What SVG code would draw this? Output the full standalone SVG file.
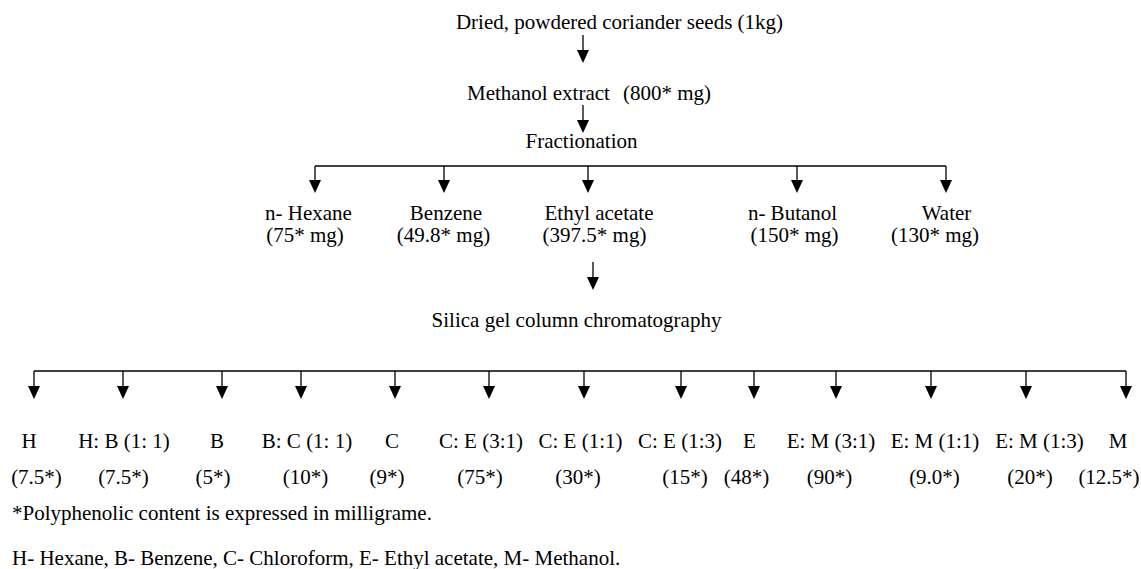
<svg xmlns="http://www.w3.org/2000/svg" width="1141" height="569" viewBox="0 0 1141 569">
<style>
text{font-family:"Liberation Serif","Times New Roman",serif;font-size:21px;fill:#000}
.c{text-anchor:middle}
.ln{stroke:#000;stroke-width:1.3;fill:none}
.ar{stroke:#000;stroke-width:1.3;fill:none;marker-end:url(#ah)}
</style>
<defs>
<marker id="ah" markerUnits="userSpaceOnUse" markerWidth="13" markerHeight="12" refX="11" refY="6" orient="auto">
<path d="M0,0 L13,6 L0,12 Z" fill="#000"/>
</marker>
</defs>
<rect width="1141" height="569" fill="#fff"/>
<g id="connectors">
<line class="ar" x1="583" y1="35" x2="583" y2="61"/>
<line class="ar" x1="583" y1="105" x2="583" y2="131"/>
<line class="ln" x1="315" y1="166" x2="946" y2="166"/>
<line class="ar" x1="315" y1="166" x2="315" y2="191"/>
<line class="ar" x1="444" y1="166" x2="444" y2="191"/>
<line class="ar" x1="588" y1="166" x2="588" y2="191"/>
<line class="ar" x1="797" y1="166" x2="797" y2="191"/>
<line class="ar" x1="946" y1="166" x2="946" y2="191"/>
<line class="ar" x1="593" y1="262" x2="593" y2="288"/>
<line class="ln" x1="34" y1="371" x2="1126" y2="371"/>
<line class="ar" x1="34" y1="371" x2="34" y2="397"/>
<line class="ar" x1="123" y1="371" x2="123" y2="397"/>
<line class="ar" x1="222" y1="371" x2="222" y2="397"/>
<line class="ar" x1="301" y1="371" x2="301" y2="397"/>
<line class="ar" x1="395" y1="371" x2="395" y2="397"/>
<line class="ar" x1="489" y1="371" x2="489" y2="397"/>
<line class="ar" x1="584" y1="371" x2="584" y2="397"/>
<line class="ar" x1="681" y1="371" x2="681" y2="397"/>
<line class="ar" x1="754" y1="371" x2="754" y2="397"/>
<line class="ar" x1="836" y1="371" x2="836" y2="397"/>
<line class="ar" x1="931" y1="371" x2="931" y2="397"/>
<line class="ar" x1="1026" y1="371" x2="1026" y2="397"/>
<line class="ar" x1="1126" y1="371" x2="1126" y2="397"/>
</g>
<g id="seeds"><text class="c" x="619.5" y="29">Dried, powdered coriander seeds (1kg)</text></g>
<g id="methanol-extract"><text y="100"><tspan x="467">Methanol extract</tspan><tspan x="623">(800* mg)</tspan></text></g>
<g id="fractionation"><text class="c" x="581.5" y="148">Fractionation</text></g>
<g id="hexane"><text class="c" x="308.5" y="220">n- Hexane</text><text class="c" x="305" y="242">(75* mg)</text></g>
<g id="benzene"><text class="c" x="446" y="220">Benzene</text><text class="c" x="443.5" y="242">(49.8* mg)</text></g>
<g id="ethyl-acetate"><text class="c" x="599" y="220">Ethyl acetate</text><text class="c" x="594.5" y="242">(397.5* mg)</text></g>
<g id="butanol"><text class="c" x="792.5" y="220">n- Butanol</text><text class="c" x="794.5" y="242">(150* mg)</text></g>
<g id="water"><text class="c" x="946.5" y="220">Water</text><text class="c" x="935" y="242">(130* mg)</text></g>
<g id="silica"><text class="c" x="576.5" y="327">Silica gel column chromatography</text></g>
<g id="f-h"><text class="c" x="29" y="448">H</text><text class="c" x="36.5" y="484">(7.5*)</text></g>
<g id="f-hb"><text class="c" x="124" y="448">H: B (1: 1)</text><text class="c" x="123.5" y="484">(7.5*)</text></g>
<g id="f-b"><text class="c" x="217" y="448">B</text><text class="c" x="213" y="484">(5*)</text></g>
<g id="f-bc"><text class="c" x="307" y="448">B: C (1: 1)</text><text class="c" x="305.5" y="484">(10*)</text></g>
<g id="f-c"><text class="c" x="392" y="448">C</text><text class="c" x="387" y="484">(9*)</text></g>
<g id="f-ce31"><text class="c" x="481" y="448">C: E (3:1)</text><text class="c" x="480" y="484">(75*)</text></g>
<g id="f-ce11"><text class="c" x="580.5" y="448">C: E (1:1)</text><text class="c" x="578" y="484">(30*)</text></g>
<g id="f-ce13"><text class="c" x="680" y="448">C: E (1:3)</text><text class="c" x="685" y="484">(15*)</text></g>
<g id="f-e"><text class="c" x="749.5" y="448">E</text><text class="c" x="746.5" y="484">(48*)</text></g>
<g id="f-em31"><text class="c" x="831" y="448">E: M (3:1)</text><text class="c" x="829.5" y="484">(90*)</text></g>
<g id="f-em11"><text class="c" x="935" y="448">E: M (1:1)</text><text class="c" x="934.5" y="484">(9.0*)</text></g>
<g id="f-em13"><text class="c" x="1039.5" y="448">E: M (1:3)</text><text class="c" x="1030" y="484">(20*)</text></g>
<g id="f-m"><text class="c" x="1118" y="448">M</text><text class="c" x="1109" y="484">(12.5*)</text></g>
<g id="notes">
<text x="12" y="520">*Polyphenolic content is expressed in milligrame.</text>
<text x="12" y="565">H- Hexane, B- Benzene, C- Chloroform, E- Ethyl acetate, M- Methanol.</text>
</g>
</svg>
